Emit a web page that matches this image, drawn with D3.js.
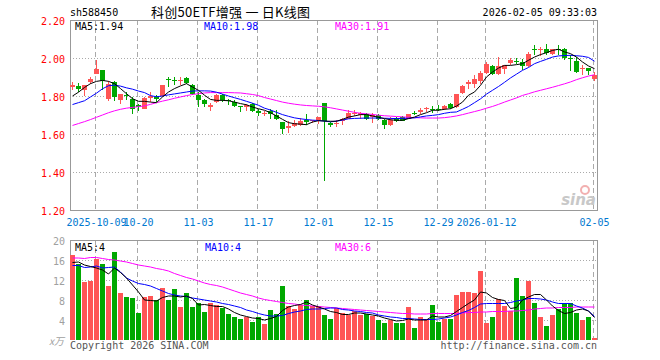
<!DOCTYPE html>
<html>
<head>
<meta charset="utf-8">
<script src="https://cdn.jsdelivr.net/npm/d3@7/dist/d3.min.js"></script>
<style>
  body { margin: 0; background: #fff; }
  text { font-family: "DejaVu Sans Mono", monospace; font-size: 10px; }
</style>
</head>
<body>
<div id="chart"></div>
<script>
//trading days shown on the chart
const dates = [
  "2025-09-25", "2025-09-26", "2025-09-29", "2025-09-30", "2025-10-09", "2025-10-10", "2025-10-13", "2025-10-14",
  "2025-10-15", "2025-10-16", "2025-10-17", "2025-10-20", "2025-10-21", "2025-10-22", "2025-10-23", "2025-10-24",
  "2025-10-27", "2025-10-28", "2025-10-29", "2025-10-30", "2025-10-31", "2025-11-03", "2025-11-04", "2025-11-05",
  "2025-11-06", "2025-11-07", "2025-11-10", "2025-11-11", "2025-11-12", "2025-11-13", "2025-11-14", "2025-11-17",
  "2025-11-18", "2025-11-19", "2025-11-20", "2025-11-21", "2025-11-24", "2025-11-25", "2025-11-26", "2025-11-27",
  "2025-11-28", "2025-12-01", "2025-12-02", "2025-12-03", "2025-12-04", "2025-12-05", "2025-12-08", "2025-12-09",
  "2025-12-10", "2025-12-11", "2025-12-12", "2025-12-15", "2025-12-16", "2025-12-17", "2025-12-18", "2025-12-19",
  "2025-12-22", "2025-12-23", "2025-12-24", "2025-12-25", "2025-12-26", "2025-12-29", "2025-12-30", "2025-12-31",
  "2026-01-05", "2026-01-06", "2026-01-07", "2026-01-08", "2026-01-09", "2026-01-12", "2026-01-13", "2026-01-14",
  "2026-01-15", "2026-01-16", "2026-01-19", "2026-01-20", "2026-01-21", "2026-01-22", "2026-01-23", "2026-01-26",
  "2026-01-27", "2026-01-28", "2026-01-29", "2026-01-30", "2026-02-02", "2026-02-03", "2026-02-04", "2026-02-05"
];

//daily prices
const open = [
  1.846, 1.851, 1.830, 1.872, 1.918, 1.939, 1.786, 1.874, 1.781, 1.807, 1.786, 1.754, 1.733, 1.789, 1.795, 1.800,
  1.888, 1.882, 1.877, 1.895, 1.856, 1.807, 1.777, 1.742, 1.768, 1.807, 1.777, 1.768, 1.747, 1.742, 1.760, 1.719,
  1.704, 1.719, 1.702, 1.663, 1.632, 1.642, 1.649, 1.672, 1.667, 1.672, 1.765, 1.660, 1.654, 1.670, 1.681, 1.704,
  1.698, 1.705, 1.691, 1.702, 1.675, 1.649, 1.684, 1.688, 1.681, 1.712, 1.716, 1.730, 1.733, 1.733, 1.733, 1.760,
  1.742, 1.818, 1.865, 1.865, 1.879, 1.923, 1.958, 1.918, 1.944, 1.974, 1.983, 1.979, 1.958, 2.046, 2.040, 2.046,
  2.023, 2.049, 2.046, 2.000, 1.982, 1.940, 1.947, 1.891
];
const high = [
  1.874, 1.870, 1.860, 1.900, 1.991, 1.939, 1.877, 1.877, 1.812, 1.821, 1.795, 1.760, 1.795, 1.821, 1.807, 1.860,
  1.900, 1.900, 1.900, 1.900, 1.865, 1.821, 1.786, 1.763, 1.812, 1.812, 1.786, 1.777, 1.749, 1.760, 1.763, 1.733,
  1.719, 1.730, 1.725, 1.663, 1.667, 1.675, 1.684, 1.707, 1.675, 1.689, 1.765, 1.663, 1.675, 1.684, 1.725, 1.725,
  1.716, 1.709, 1.712, 1.705, 1.681, 1.688, 1.688, 1.695, 1.707, 1.719, 1.737, 1.742, 1.746, 1.754, 1.754, 1.763,
  1.812, 1.856, 1.882, 1.912, 1.930, 1.979, 1.961, 2.005, 1.965, 2.000, 2.000, 1.996, 2.032, 2.070, 2.058, 2.075,
  2.046, 2.067, 2.053, 2.018, 2.005, 1.961, 1.947, 1.926
];
const low = [
  1.830, 1.821, 1.800, 1.865, 1.918, 1.830, 1.772, 1.772, 1.756, 1.781, 1.707, 1.719, 1.730, 1.768, 1.768, 1.795,
  1.847, 1.856, 1.860, 1.865, 1.807, 1.742, 1.742, 1.721, 1.765, 1.768, 1.751, 1.742, 1.716, 1.721, 1.716, 1.695,
  1.695, 1.681, 1.672, 1.598, 1.607, 1.637, 1.642, 1.649, 1.658, 1.654, 1.351, 1.637, 1.637, 1.649, 1.677, 1.695,
  1.677, 1.674, 1.660, 1.672, 1.628, 1.642, 1.663, 1.667, 1.681, 1.698, 1.707, 1.716, 1.712, 1.719, 1.725, 1.733,
  1.739, 1.809, 1.839, 1.844, 1.865, 1.918, 1.909, 1.909, 1.918, 1.965, 1.970, 1.935, 1.953, 2.014, 2.011, 2.018,
  2.018, 2.018, 1.988, 1.930, 1.923, 1.909, 1.909, 1.877
];
const close = [
  1.860, 1.835, 1.860, 1.888, 1.940, 1.879, 1.865, 1.795, 1.812, 1.800, 1.732, 1.742, 1.789, 1.800, 1.782, 1.856,
  1.882, 1.877, 1.882, 1.868, 1.812, 1.777, 1.760, 1.751, 1.807, 1.781, 1.772, 1.746, 1.742, 1.754, 1.719, 1.712,
  1.709, 1.705, 1.681, 1.628, 1.642, 1.658, 1.667, 1.663, 1.675, 1.689, 1.667, 1.649, 1.660, 1.681, 1.712, 1.711,
  1.709, 1.681, 1.702, 1.681, 1.649, 1.675, 1.667, 1.670, 1.707, 1.709, 1.728, 1.737, 1.730, 1.730, 1.747, 1.739,
  1.812, 1.853, 1.874, 1.891, 1.923, 1.970, 1.918, 1.958, 1.961, 1.988, 1.979, 1.958, 2.023, 2.040, 2.046, 2.028,
  2.046, 2.046, 2.000, 1.993, 1.926, 1.947, 1.930, 1.909
];

//price moving averages as drawn
const ma5 = [
  1.800, 1.820, 1.845, 1.865, 1.877, 1.882, 1.877, 1.865, 1.839, 1.812, 1.786, 1.772, 1.772, 1.768, 1.765, 1.795,
  1.821, 1.839, 1.853, 1.865, 1.847, 1.830, 1.804, 1.782, 1.777, 1.777, 1.775, 1.768, 1.760, 1.754, 1.742, 1.733,
  1.725, 1.712, 1.695, 1.677, 1.660, 1.654, 1.652, 1.649, 1.663, 1.670, 1.668, 1.667, 1.667, 1.677, 1.689, 1.695,
  1.702, 1.702, 1.695, 1.688, 1.681, 1.675, 1.672, 1.672, 1.681, 1.689, 1.702, 1.712, 1.725, 1.725, 1.730, 1.733,
  1.747, 1.768, 1.804, 1.821, 1.856, 1.900, 1.926, 1.947, 1.961, 1.961, 1.965, 1.970, 1.988, 2.005, 2.018, 2.028,
  2.040, 2.046, 2.032, 2.023, 2.005, 1.979, 1.958, 1.944
];
const ma10 = [
  1.755, 1.765, 1.775, 1.795, 1.815, 1.838, 1.854, 1.857, 1.852, 1.843, 1.836, 1.826, 1.818, 1.802, 1.796, 1.800,
  1.806, 1.811, 1.816, 1.821, 1.826, 1.827, 1.827, 1.826, 1.820, 1.810, 1.800, 1.791, 1.782, 1.772, 1.762, 1.751,
  1.736, 1.726, 1.714, 1.702, 1.693, 1.685, 1.680, 1.676, 1.673, 1.671, 1.668, 1.664, 1.668, 1.673, 1.680, 1.682,
  1.683, 1.684, 1.684, 1.684, 1.683, 1.682, 1.681, 1.682, 1.683, 1.685, 1.690, 1.695, 1.698, 1.702, 1.709, 1.714,
  1.716, 1.730, 1.745, 1.765, 1.785, 1.810, 1.830, 1.850, 1.872, 1.895, 1.915, 1.935, 1.950, 1.970, 1.982, 1.993,
  2.005, 2.011, 2.013, 2.014, 2.012, 2.009, 2.003, 1.983
];
const ma30 = [
  1.645, 1.655, 1.665, 1.676, 1.688, 1.700, 1.712, 1.722, 1.730, 1.736, 1.740, 1.744, 1.748, 1.756, 1.765, 1.773,
  1.780, 1.788, 1.795, 1.802, 1.808, 1.812, 1.816, 1.818, 1.818, 1.818, 1.818, 1.817, 1.816, 1.812, 1.808, 1.802,
  1.792, 1.784, 1.776, 1.768, 1.762, 1.757, 1.753, 1.750, 1.748, 1.746, 1.743, 1.738, 1.732, 1.726, 1.720, 1.714,
  1.709, 1.706, 1.703, 1.699, 1.696, 1.694, 1.692, 1.690, 1.688, 1.686, 1.685, 1.684, 1.684, 1.684, 1.686, 1.690,
  1.695, 1.702, 1.710, 1.718, 1.726, 1.736, 1.745, 1.756, 1.768, 1.779, 1.790, 1.803, 1.812, 1.822, 1.830, 1.838,
  1.846, 1.855, 1.864, 1.874, 1.886, 1.896, 1.905, 1.912
];

//volume in 10k lots and its moving averages
const volume = [
  17.0, 15.3, 11.7, 11.8, 16.3, 15.2, 10.8, 17.6, 9.4, 8.6, 8.4, 5.4, 8.7, 8.8, 8.0, 10.4,
  8.0, 10.2, 6.6, 9.4, 6.6, 7.4, 5.6, 7.4, 7.0, 6.4, 5.2, 4.7, 4.2, 4.7, 3.7, 4.6,
  3.3, 6.0, 5.2, 10.8, 6.8, 6.2, 7.0, 8.0, 6.8, 6.8, 5.0, 4.2, 6.5, 5.5, 5.1, 5.8,
  5.0, 5.3, 4.8, 4.0, 3.5, 4.1, 3.5, 3.5, 6.7, 2.4, 4.7, 4.2, 7.1, 3.6, 4.3, 4.3,
  9.0, 9.6, 9.6, 9.4, 13.8, 3.4, 4.6, 8.2, 6.8, 5.8, 12.4, 8.8, 11.9, 7.4, 4.6, 2.9,
  5.0, 6.2, 7.4, 7.4, 5.4, 4.0, 4.6, 0.4
];
const volMa5 = [
  15.5, 15.6, 15.0, 14.7, 14.4, 14.0, 13.2, 14.4, 13.5, 12.4, 11.0, 9.6, 8.0, 7.9, 7.8, 8.5,
  8.8, 8.8, 8.6, 8.8, 8.3, 7.0, 7.1, 6.9, 6.7, 6.7, 6.2, 5.5, 5.0, 4.7, 4.4, 4.3,
  4.0, 4.3, 4.7, 5.9, 6.6, 6.9, 7.1, 7.6, 7.0, 6.6, 6.2, 5.7, 5.5, 5.1, 5.1, 5.4,
  5.4, 5.2, 5.0, 4.8, 4.4, 4.1, 3.8, 3.9, 4.2, 4.0, 4.0, 4.0, 4.8, 4.6, 4.6, 4.9,
  5.7, 6.5, 7.3, 8.0, 9.6, 9.4, 8.5, 8.1, 7.9, 6.3, 6.5, 8.0, 8.6, 9.1, 9.1, 8.0,
  6.8, 5.9, 5.3, 5.5, 6.0, 6.2, 5.8, 4.5
];
const volMa10 = [
  14.9, 14.9, 14.5, 14.6, 14.8, 14.4, 14.5, 14.6, 13.6, 12.4, 11.8, 11.3, 11.1, 10.8, 10.3, 9.8,
  9.3, 9.0, 8.8, 8.7, 8.4, 8.2, 8.0, 7.8, 7.6, 7.3, 7.1, 6.8, 6.5, 6.0, 5.7, 5.3,
  5.0, 4.8, 4.8, 4.9, 5.3, 5.6, 5.8, 6.1, 6.2, 6.2, 6.3, 6.4, 6.4, 6.1, 6.0, 5.8,
  5.7, 5.5, 5.4, 5.0, 4.8, 4.6, 4.5, 4.3, 4.3, 4.2, 4.1, 4.1, 4.1, 4.2, 4.4, 4.6,
  5.0, 5.5, 5.9, 6.5, 7.2, 7.3, 7.3, 7.3, 7.3, 7.5, 7.8, 8.0, 8.3, 8.3, 8.2, 8.0,
  7.6, 7.3, 7.3, 7.3, 6.8, 6.4, 5.8, 4.7
];
const volMa30 = [
  16.4, 16.4, 16.3, 16.5, 16.5, 16.3, 16.1, 16.0, 15.8, 15.6, 15.3, 15.0, 14.8, 14.6, 14.3, 14.1,
  13.8, 13.3, 12.9, 12.5, 12.2, 11.8, 11.4, 11.1, 10.9, 10.6, 10.2, 9.8, 9.4, 9.1, 8.8, 8.4,
  8.1, 7.9, 7.7, 7.5, 7.3, 7.2, 7.0, 6.9, 6.8, 6.7, 6.6, 6.5, 6.4, 6.3, 6.2, 6.1,
  6.0, 5.9, 5.8, 5.7, 5.6, 5.5, 5.4, 5.3, 5.3, 5.2, 5.2, 5.2, 5.3, 5.3, 5.3, 5.3,
  5.3, 5.4, 5.5, 5.5, 5.6, 5.6, 5.7, 5.7, 5.7, 5.8, 5.8, 5.9, 6.0, 6.2, 6.3, 6.4,
  6.4, 6.5, 6.5, 6.5, 6.6, 6.6, 6.6, 6.6
];

//axis ticks
const tickDates = ["2025-10-09", "2025-10-20", "2025-11-03", "2025-11-17", "2025-12-01", "2025-12-15", "2025-12-29", "2026-01-12", "2026-02-05"];
const tickLabels = ["2025-10-09", "10-20", "11-03", "11-17", "12-01", "12-15", "12-29", "2026-01-12", "02-05"];
const priceTicks = [1.2, 1.4, 1.6, 1.8, 2.0, 2.2];
const volumeTicks = [4, 8, 12, 16, 20];

const main = () => {
  const width = 660;
  const height = 360;
  const left = 70;
  const right = 597;

  const red = "#ff5555";
  const green = "#00a800";
  const gridColor = "#aaaaaa";
  const frameColor = "#999999";

  const svg = d3
    .select("#chart")
    .append("svg")
    .attr("width", width)
    .attr("height", height);
  svg.append("rect").attr("width", width).attr("height", height).attr("fill", "#fff");

  const x = d3.scaleBand().domain(dates).range([left, right]).paddingInner(1 / 6).paddingOuter(0);
  const bw = x.bandwidth();
  const cx = (d) => x(d) + bw / 2;
  const y = d3.scaleLinear().domain([1.2, 2.2]).range([210, 20]);
  const yv = d3.scaleLinear().domain([0, 20]).range([340, 240]);

  const rows = dates.map((d, i) => ({
    date: d,
    open: open[i],
    high: high[i],
    low: low[i],
    close: close[i],
    volume: volume[i],
    up: close[i] >= open[i],
  }));

  //header
  svg.append("text").attr("x", 70).attr("y", 16).text("sh588450");
  svg
    .append("text")
    .attr("x", 151)
    .attr("y", 17)
    .attr("textLength", 159)
    .attr("lengthAdjust", "spacing")
    .style("font-family", "'Noto Sans CJK SC', sans-serif")
    .style("font-size", "13px")
    .text("科创50ETF增强 一 日K线图");
  svg.append("text").attr("x", right).attr("y", 16).attr("text-anchor", "end").text("2026-02-05 09:33:03");

  //price grid
  const grid = svg.append("g").attr("shape-rendering", "crispEdges");
  grid
    .selectAll(".hgrid")
    .data(priceTicks.filter((t) => t > 1.2 && t < 2.2))
    .enter()
    .append("line")
    .attr("x1", left)
    .attr("x2", right)
    .attr("y1", (d) => Math.round(y(d)) + 0.5)
    .attr("y2", (d) => Math.round(y(d)) + 0.5)
    .attr("stroke", gridColor)
    .attr("stroke-dasharray", "1,2");
  grid
    .selectAll(".vgrid")
    .data(volumeTicks.filter((t) => t < 20))
    .enter()
    .append("line")
    .attr("x1", left)
    .attr("x2", right)
    .attr("y1", (d) => Math.round(yv(d)) + 0.5)
    .attr("y2", (d) => Math.round(yv(d)) + 0.5)
    .attr("stroke", gridColor)
    .attr("stroke-dasharray", "1,2");
  [
    [y(2.2), y(1.2)],
    [yv(20), yv(0)],
  ].forEach(([y0, y1]) => {
    grid
      .selectAll(null)
      .data(tickDates)
      .enter()
      .append("line")
      .attr("x1", (d) => Math.floor(cx(d)) - 0.5)
      .attr("x2", (d) => Math.floor(cx(d)) - 0.5)
      .attr("y1", y0)
      .attr("y2", y1)
      .attr("stroke", gridColor)
      .attr("stroke-dasharray", "5,3");
  });

  //frames
  const frame = svg.append("g").attr("shape-rendering", "crispEdges").attr("fill", "none").attr("stroke", frameColor);
  frame.append("rect").attr("x", left + 0.5).attr("y", y(2.2) + 0.5).attr("width", right - left).attr("height", y(1.2) - y(2.2));
  frame
    .append("path")
    .attr("d", `M${left + 0.5},${yv(0)}V${yv(20) + 0.5}H${right + 0.5}V${yv(0)}`);

  //price axis labels
  svg
    .append("g")
    .selectAll("text")
    .data(priceTicks)
    .enter()
    .append("text")
    .attr("x", 65)
    .attr("y", (d) => y(d) + 5)
    .attr("text-anchor", "end")
    .attr("fill", "#ff0000")
    .text((d) => d.toFixed(2));

  //date labels
  svg
    .append("g")
    .selectAll("text")
    .data(tickDates)
    .enter()
    .append("text")
    .attr("x", (d) => cx(d))
    .attr("y", 226)
    .attr("text-anchor", "middle")
    .attr("fill", "#0078d0")
    .text((d, i) => tickLabels[i]);

  //candles
  const candles = svg.append("g").attr("shape-rendering", "crispEdges");
  candles
    .selectAll(".wick")
    .data(rows)
    .enter()
    .append("line")
    .attr("x1", (d) => Math.floor(cx(d.date)) + 0.5)
    .attr("x2", (d) => Math.floor(cx(d.date)) + 0.5)
    .attr("y1", (d) => y(d.high))
    .attr("y2", (d) => y(d.low))
    .attr("stroke", (d) => (d.up ? red : green));
  candles
    .selectAll(".body")
    .data(rows)
    .enter()
    .append("rect")
    .attr("x", (d) => x(d.date))
    .attr("width", bw)
    .attr("y", (d) => y(Math.max(d.open, d.close)))
    .attr("height", (d) => Math.max(Math.abs(y(d.open) - y(d.close)), 1))
    .attr("fill", (d) => (d.up ? red : green));

  //moving average lines
  const drawLines = (series, scale) => {
    series.forEach(([values, color]) => {
      svg
        .append("path")
        .datum(values)
        .attr("fill", "none")
        .attr("stroke", color)
        .attr("stroke-width", 1)
        .attr("d", d3.line().x((d, i) => cx(dates[i])).y((d) => scale(d)));
    });
  };
  drawLines(
    [
      [ma30, "#ff00ff"],
      [ma10, "#0000ff"],
      [ma5, "#000000"],
    ],
    y
  );

  //volume bars
  svg
    .append("g")
    .attr("shape-rendering", "crispEdges")
    .selectAll("rect")
    .data(rows)
    .enter()
    .append("rect")
    .attr("x", (d) => x(d.date))
    .attr("width", bw)
    .attr("y", (d) => yv(d.volume))
    .attr("height", (d) => yv(0) - yv(d.volume))
    .attr("fill", (d) => (d.up ? red : green));
  drawLines(
    [
      [volMa30, "#ff00ff"],
      [volMa10, "#0000ff"],
      [volMa5, "#000000"],
    ],
    yv
  );

  //volume axis labels
  svg
    .append("g")
    .selectAll("text")
    .data(volumeTicks)
    .enter()
    .append("text")
    .attr("x", 65)
    .attr("y", (d) => yv(d) + 5)
    .attr("text-anchor", "end")
    .attr("fill", "#a0a0a0")
    .text((d) => d);
  svg
    .append("text")
    .attr("x", 64)
    .attr("y", 345)
    .attr("text-anchor", "end")
    .attr("fill", "#a0a0a0")
    .style("font-family", "'Noto Sans CJK SC', sans-serif")
    .style("font-style", "italic")
    .text("x万");

  //legends
  const legend = (items, yy) => {
    items.forEach(([label, xx, color]) => {
      svg.append("text").attr("x", xx).attr("y", yy).attr("fill", color).text(label);
    });
  };
  legend(
    [
      [`MA5:${ma5[ma5.length - 1].toFixed(2)}`, 75, "#000000"],
      [`MA10:${ma10[ma10.length - 1].toFixed(2)}`, 204, "#0000ff"],
      [`MA30:${ma30[ma30.length - 1].toFixed(2)}`, 335, "#ff00ff"],
    ],
    30
  );
  legend(
    [
      [`MA5:${Math.floor(volMa5[volMa5.length - 1])}`, 75, "#000000"],
      [`MA10:${Math.floor(volMa10[volMa10.length - 1])}`, 205, "#0000ff"],
      [`MA30:${Math.floor(volMa30[volMa30.length - 1])}`, 335, "#ff00ff"],
    ],
    251
  );

  //sina watermark
  svg
    .append("text")
    .attr("x", right - 1)
    .attr("y", 205)
    .attr("text-anchor", "end")
    .attr("fill", "#c8c8c8")
    .style("font-family", "'DejaVu Sans', sans-serif")
    .style("font-size", "15px")
    .style("font-weight", "bold")
    .style("font-style", "italic")
    .text("sina");
  svg
    .append("circle")
    .attr("cx", 585)
    .attr("cy", 190)
    .attr("r", 4)
    .attr("fill", "none")
    .attr("stroke", "#f2b0b0")
    .attr("stroke-width", 2);

  //footer
  svg.append("text").attr("x", 70).attr("y", 349).attr("fill", "#555").text("Copyright 2026 SINA.COM");
  svg
    .append("text")
    .attr("x", right)
    .attr("y", 349)
    .attr("text-anchor", "end")
    .attr("fill", "#555")
    .text("http://finance.sina.com.cn");
};

main();
</script>
</body>
</html>
